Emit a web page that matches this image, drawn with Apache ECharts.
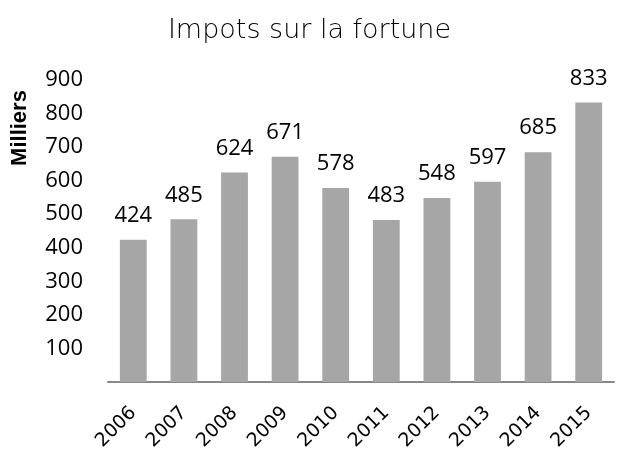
<!DOCTYPE html>
<html>
<head>
<meta charset="utf-8">
<script src="https://cdn.jsdelivr.net/npm/echarts@6/dist/echarts.min.js"></script>
<style>
    html, body { margin: 0; padding: 0; background: #fff; }
    #chart { width: 619px; height: 453px; }
</style>
</head>
<body>
<div id="chart"></div>
<script>
// données
let years = ['2006', '2007', '2008', '2009', '2010', '2011', '2012', '2013', '2014', '2015']
let impots = [424, 485, 624, 671, 578, 483, 548, 597, 685, 833]
let yTicks = [0, 100, 200, 300, 400, 500, 600, 700, 800, 900]

let myChart = echarts.init(document.getElementById('chart'))

let option = {
    animation: false,
    title: {
        text: 'Impots sur la fortune',
        left: 'center',
        top: 12,
        textStyle: {
            color: '#000',
            fontFamily: 'DejaVu Sans',
            fontWeight: 200,
            fontSize: 27
        }
    },
    // titre de l'axe vertical
    graphic: [{
        type: 'text',
        x: 20,
        y: 128,
        rotation: Math.PI / 2,
        style: {
            text: 'Milliers',
            fill: '#000',
            font: 'bold 22px "Liberation Sans"',
            align: 'center',
            verticalAlign: 'middle'
        }
    }],
    grid: {
        left: 108,
        right: 5,
        top: 80,
        bottom: 70
    },
    xAxis: {
        type: 'category',
        data: years,
        axisLine: { lineStyle: { color: '#878787', width: 2 } },
        axisTick: { show: false },
        axisLabel: {
            rotate: 45,
            margin: 28,
            color: '#000',
            fontFamily: 'DejaVu Sans',
            fontSize: 19
        }
    },
    yAxis: {
        type: 'value',
        min: yTicks[0],
        max: yTicks[yTicks.length - 1],
        interval: 100,
        axisLine: { show: false },
        axisTick: { show: false },
        splitLine: { show: false },
        axisLabel: {
            margin: 25,
            color: '#000',
            fontFamily: 'Open Sans',
            fontSize: 22,
            formatter: function(v) { return v === 0 ? '' : v }
        }
    },
    series: [{
        type: 'bar',
        data: impots,
        barWidth: '53%',
        itemStyle: { color: '#a6a6a6' },
        label: {
            show: true,
            position: 'top',
            distance: 13,
            color: '#000',
            fontFamily: 'Open Sans',
            fontSize: 22
        }
    }]
}

myChart.setOption(option)
</script>
</body>
</html>
